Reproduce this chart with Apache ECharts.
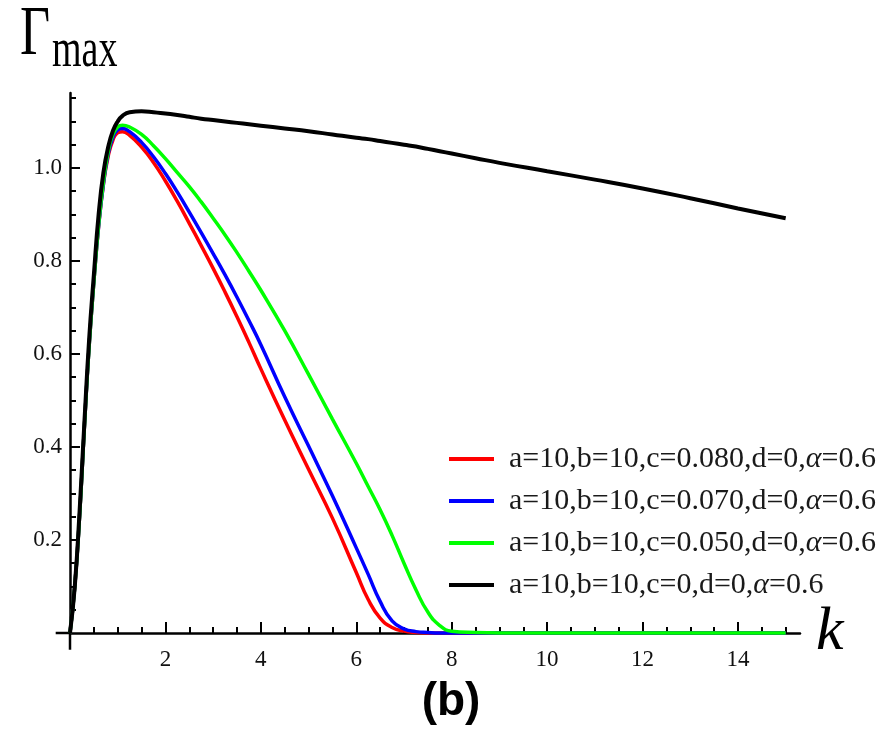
<!DOCTYPE html>
<html>
<head>
<meta charset="utf-8">
<script src="https://cdn.jsdelivr.net/npm/echarts@6/dist/echarts.min.js"></script>
<style>
  html, body { margin: 0; padding: 0; background: #ffffff; }
  #chart { width: 888px; height: 745px; }
</style>
</head>
<body>
<div id="chart"></div>
<script>
// Wave number k (shared sampling for all curves)
const kValues = [0, 0.1, 0.2, 0.3, 0.4, 0.5, 0.6, 0.7, 0.8, 0.9, 1.0,
  1.1, 1.25, 1.5, 1.75, 2, 2.25, 2.5, 2.75, 3, 3.25, 3.5, 3.75, 4,
  4.5, 5, 5.5, 6, 6.25, 6.5, 6.75, 7, 7.25, 7.5, 7.75, 8,
  8.5, 9, 10, 11, 12, 13, 14, 15];

// Maximum growth rate for each parameter set
const gammaC080 = [0, 0.1, 0.25, 0.44, 0.615, 0.755, 0.875, 0.965, 1.025, 1.06, 1.076,
  1.078, 1.07, 1.045, 1.012, 0.972, 0.928, 0.881, 0.833, 0.784, 0.733, 0.68, 0.625, 0.568,
  0.458, 0.352, 0.247, 0.13, 0.072, 0.032, 0.012, 0.004, 0.001, 0, 0, 0,
  0, 0, 0, 0, 0, 0, 0, 0];
const gammaC070 = [0, 0.1, 0.25, 0.44, 0.615, 0.755, 0.875, 0.965, 1.03, 1.066, 1.082,
  1.085, 1.078, 1.055, 1.024, 0.988, 0.948, 0.905, 0.861, 0.816, 0.77, 0.722, 0.672, 0.62,
  0.508, 0.402, 0.295, 0.183, 0.126, 0.068, 0.026, 0.009, 0.003, 0.001, 0, 0,
  0, 0, 0, 0, 0, 0, 0, 0];
const gammaC050 = [0, 0.1, 0.25, 0.44, 0.615, 0.755, 0.878, 0.97, 1.035, 1.072, 1.088,
  1.092, 1.088, 1.072, 1.048, 1.02, 0.99, 0.96, 0.927, 0.892, 0.856, 0.818, 0.778, 0.737,
  0.65, 0.556, 0.46, 0.365, 0.315, 0.265, 0.21, 0.15, 0.093, 0.045, 0.016, 0.004,
  0.001, 0, 0, 0, 0, 0, 0, 0];
const gammaC0 = [0, 0.1, 0.26, 0.45, 0.63, 0.77, 0.9, 0.99, 1.045, 1.08, 1.1,
  1.112, 1.12, 1.122, 1.12, 1.117, 1.114, 1.11, 1.106, 1.103, 1.1, 1.097, 1.094, 1.091,
  1.085, 1.079, 1.072, 1.065, 1.062, 1.058, 1.054, 1.05, 1.046, 1.041, 1.036, 1.031,
  1.021, 1.011, 0.993, 0.975, 0.956, 0.935, 0.913, 0.892];

const seriesNames = [
  'a=10,b=10,c=0.080,d=0,α=0.6',
  'a=10,b=10,c=0.070,d=0,α=0.6',
  'a=10,b=10,c=0.050,d=0,α=0.6',
  'a=10,b=10,c=0,d=0,α=0.6'
];
const seriesValues = [gammaC080, gammaC070, gammaC050, gammaC0];
const seriesColors = ['#ff0000', '#0000ff', '#00ff00', '#000000'];

// Tick positions and their labels
const xMajorTicks = [2, 4, 6, 8, 10, 12, 14];
const xMinorTicks = [0.5, 1, 1.5, 2.5, 3, 3.5, 4.5, 5, 5.5, 6.5, 7, 7.5, 8.5, 9, 9.5,
  10.5, 11, 11.5, 12.5, 13, 13.5, 14.5, 15];
const yMajorTicks = [0.2, 0.4, 0.6, 0.8, 1.0];
const yMinorTicks = [0.05, 0.1, 0.15, 0.25, 0.3, 0.35, 0.45, 0.5, 0.55, 0.65, 0.7, 0.75,
  0.85, 0.9, 0.95, 1.05, 1.1, 1.15];
const xTickLabels = ['2', '4', '6', '8', '10', '12', '14'];
const yTickLabels = ['0.2', '0.4', '0.6', '0.8', '1.0'];

// Axis ranges; the axis lines also poke a little past the origin
const X_MIN = 0, X_MAX = 15.3;
const Y_MIN = 0, Y_MAX = 1.161;
const X_STUB = -0.3, Y_STUB = -0.036;

const serif = '"Liberation Serif", "Times New Roman", serif';
const axisColor = '#000000';
const tickFont = '23px ' + serif;
const tickColor = '#111111';

const chart = echarts.init(document.getElementById('chart'), null, { renderer: 'canvas' });

function xAxisDef(ticks, len, withLine) {
  return {
    type: 'value', min: X_MIN, max: X_MAX, position: 'bottom',
    axisLine: { show: withLine, onZero: false,
      lineStyle: { color: axisColor, width: 2.5 } },
    axisTick: { show: true, inside: true, length: len, customValues: ticks,
      lineStyle: { color: axisColor, width: 2 } },
    axisLabel: { show: false },
    splitLine: { show: false },
    minorTick: { show: false }
  };
}
function yAxisDef(ticks, len, withLine) {
  return {
    type: 'value', min: Y_MIN, max: Y_MAX, position: 'left',
    axisLine: { show: withLine, onZero: false,
      lineStyle: { color: axisColor, width: 2.5 } },
    axisTick: { show: true, inside: true, length: len, customValues: ticks,
      lineStyle: { color: axisColor, width: 2 } },
    axisLabel: { show: false },
    splitLine: { show: false },
    minorTick: { show: false }
  };
}

const xMain = xAxisDef(xMajorTicks, 11, true);
xMain.name = 'k';
xMain.nameLocation = 'end';
xMain.nameGap = 16;
xMain.nameTextStyle = { fontFamily: serif, fontStyle: 'italic', fontSize: 62,
  color: '#000000', padding: [0, 0, 8, 0] };

const titleGraphics = [
  { id: 'gamma', type: 'text', x: 20, y: 36, scaleY: 1.35,
    style: { text: 'Γ', font: '52px ' + serif, fill: '#000000', align: 'left', verticalAlign: 'middle' } },
  { id: 'gammaSub', type: 'text', x: 52, y: 52, scaleY: 1.45,
    style: { text: 'max', font: '38px ' + serif, fill: '#000000', align: 'left', verticalAlign: 'middle' } },
  { id: 'panel', type: 'text', x: 451, y: 702,
    style: { text: '(b)', font: 'bold 46px "Liberation Sans", Arial, sans-serif', fill: '#000000',
      align: 'center', verticalAlign: 'middle' } }
];

const option = {
  backgroundColor: '#ffffff',
  animation: false,
  grid: {
    left: 70, right: 88, top: 93.1, bottom: 112,
    containLabel: false, outerBoundsMode: 'none'
  },
  xAxis: [xMain, xAxisDef(xMinorTicks, 6, false)],
  yAxis: [yAxisDef(yMajorTicks, 10, true), yAxisDef(yMinorTicks, 6, false)],
  legend: {
    orient: 'vertical', left: 444, top: 438,
    itemWidth: 45, itemHeight: 4, itemGap: 10,
    icon: 'rect', selectedMode: false,
    data: seriesNames,
    formatter: name => name.replace('α', '{i|α}'),
    textStyle: {
      fontFamily: serif, fontSize: 30, color: '#1a1a1a', lineHeight: 32,
      padding: [0, 0, 0, 10],
      rich: { i: { fontFamily: serif, fontStyle: 'italic', fontSize: 30, color: '#1a1a1a', lineHeight: 32 } }
    }
  },
  graphic: titleGraphics,
  series: seriesValues.map((vals, i) => ({
    name: seriesNames[i],
    type: 'line',
    xAxisIndex: 0, yAxisIndex: 0,
    showSymbol: false,
    smooth: 0.5,
    clip: false,
    color: seriesColors[i],
    lineStyle: { color: seriesColors[i], width: i === 3 ? 4 : 3.5 },
    z: 2 + i,
    data: kValues.map((k, j) => [k, vals[j]])
  }))
};

chart.setOption(option);

// Tick labels and short continuations of the axis lines, placed through the axis scales
const toPx = p => chart.convertToPixel({ xAxisIndex: 0, yAxisIndex: 0 }, p);
const origin = toPx([0, 0]);
const xStub = toPx([X_STUB, 0]);
const yStub = toPx([0, Y_STUB]);

const xLabelGraphics = xMajorTicks.map((v, i) => ({
  id: 'xl' + i, type: 'text', x: toPx([v, 0])[0], y: origin[1] + 27,
  style: { text: xTickLabels[i], font: tickFont, fill: tickColor, align: 'center', verticalAlign: 'middle' }
}));
const yLabelGraphics = yMajorTicks.map((v, i) => ({
  id: 'yl' + i, type: 'text', x: origin[0] - 8, y: toPx([0, v])[1],
  style: { text: yTickLabels[i], font: tickFont, fill: tickColor, align: 'right', verticalAlign: 'middle' }
}));

chart.setOption({
  graphic: titleGraphics.concat(xLabelGraphics, yLabelGraphics, [
    { id: 'xStub', type: 'line', z: 1,
      shape: { x1: xStub[0], y1: origin[1], x2: origin[0], y2: origin[1] },
      style: { stroke: axisColor, lineWidth: 2.5 } },
    { id: 'yStub', type: 'line', z: 1,
      shape: { x1: origin[0], y1: origin[1], x2: origin[0], y2: yStub[1] },
      style: { stroke: axisColor, lineWidth: 2.5 } }
  ])
});
</script>
</body>
</html>
